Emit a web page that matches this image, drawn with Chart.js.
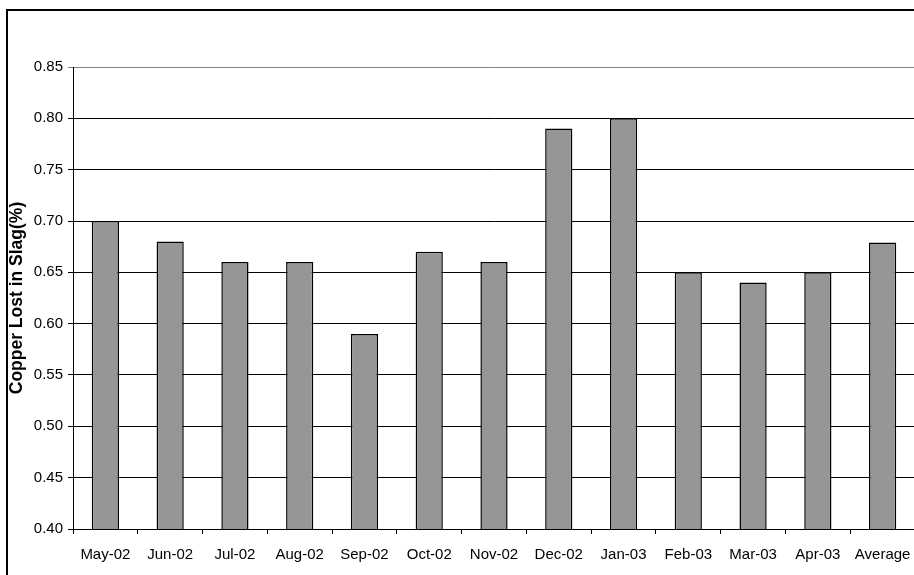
<!DOCTYPE html>
<html>
<head>
<meta charset="utf-8">
<script src="https://cdn.jsdelivr.net/npm/chart.js@4"></script>
<style>
  html, body { margin: 0; padding: 0; width: 914px; height: 575px; overflow: hidden; background: #fff; }
  #frame { position: absolute; left: 6px; top: 9px; width: 1000px; height: 1000px; border: 2px solid #000; }
  #chart { position: absolute; left: 0; top: 0; }
</style>
</head>
<body>
<div id="frame"></div>
<canvas id="chart" width="930" height="575"></canvas>
<script>
const months = ['May-02', 'Jun-02', 'Jul-02', 'Aug-02', 'Sep-02', 'Oct-02', 'Nov-02',
  'Dec-02', 'Jan-03', 'Feb-03', 'Mar-03', 'Apr-03', 'Average'];
const copperLost = [0.70, 0.68, 0.66, 0.66, 0.59, 0.67, 0.66, 0.79, 0.80, 0.65, 0.64, 0.65, 0.679];
const yTicks = { min: 0.40, max: 0.85, step: 0.05 };

Chart.defaults.font.family = '"Liberation Sans", Arial, sans-serif';
Chart.defaults.color = '#000';

new Chart(document.getElementById('chart'), {
  type: 'bar',
  data: {
    labels: months,
    datasets: [{
      data: copperLost,
      backgroundColor: '#969696',
      borderColor: '#000',
      borderWidth: 1.5,
      categoryPercentage: 1,
      barPercentage: 0.42,
    }],
  },
  options: {
    responsive: false,
    devicePixelRatio: 1,
    animation: false,
    events: [],
    layout: { padding: { left: 7, top: 67, right: 15, bottom: 0 } },
    plugins: { legend: { display: false }, tooltip: { enabled: false } },
    scales: {
      x: {
        grid: { offset: true, drawOnChartArea: false, tickLength: 5, color: '#000' },
        border: { color: '#000', width: 1 },
        ticks: { font: { size: 15 }, padding: 12, maxRotation: 0, autoSkip: false },
        afterFit: (s) => { s.height = 46; },
      },
      y: {
        min: yTicks.min,
        max: yTicks.max,
        grid: {
          tickLength: 5,
          color: (c) => (c.tick && Math.abs(c.tick.value - yTicks.max) < 1e-6 ? '#808080' : '#000'),
        },
        border: { color: '#000', width: 1 },
        ticks: {
          stepSize: yTicks.step,
          font: { size: 15 },
          padding: 5,
          callback: (v) => Number(v).toFixed(2),
        },
        title: {
          display: true,
          text: 'Copper Lost in Slag(%)',
          font: { size: 17.5, weight: 'bold' },
          padding: 0,
        },
        afterFit: (s) => { s.width = 66; },
      },
    },
  },
});
</script>
</body>
</html>
